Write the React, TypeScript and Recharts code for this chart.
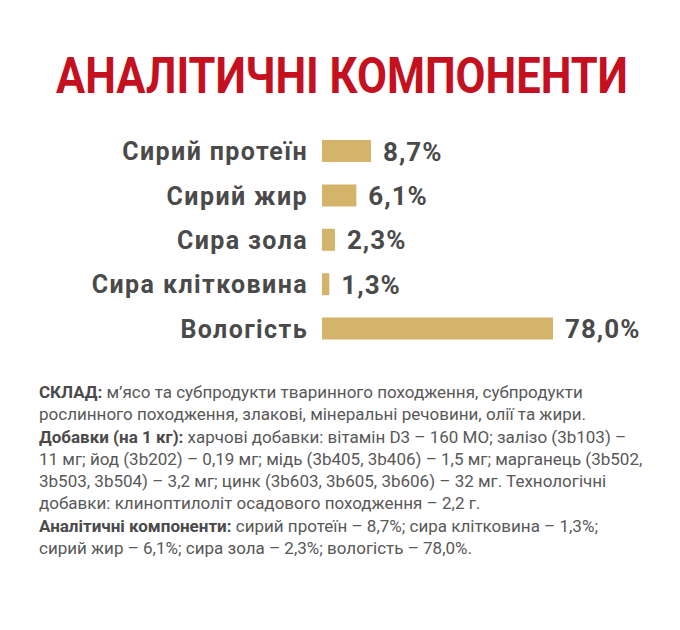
import React from 'react';
import { BarChart, Bar, XAxis, YAxis, LabelList } from 'recharts';

// analytical components, % of product
const CATEGORIES = ['Сирий протеїн', 'Сирий жир', 'Сира зола', 'Сира клітковина', 'Вологість'];
const VALUES = [8.7, 6.1, 2.3, 1.3, 78.0];
// axis is capped so the small values stay readable; moisture bar is clipped at the edge
const AXIS_MAX = 41;

const TITLE = 'АНАЛІТИЧНІ КОМПОНЕНТИ';

// composition text, one entry per printed line: [bold lead, regular rest]
const TEXT_LINES: [string, string][] = [
  ['СКЛАД:', ' м’ясо та субпродукти тваринного походження, субпродукти'],
  ['', 'рослинного походження, злакові, мінеральні речовини, олії та жири.'],
  ['Добавки (на 1 кг):', ' харчові добавки: вітамін D3 – 160 МО; залізо (3b103) –'],
  ['', '11 мг; йод (3b202) – 0,19 мг; мідь (3b405, 3b406) – 1,5 мг; марганець (3b502,'],
  ['', '3b503, 3b504) – 3,2 мг; цинк (3b603, 3b605, 3b606) – 32 мг. Технологічні'],
  ['', 'добавки: клиноптилоліт осадового походження – 2,2 г.'],
  ['Аналітичні компоненти:', ' сирий протеїн – 8,7%; сира клітковина – 1,3%;'],
  ['', 'сирий жир – 6,1%; сира зола – 2,3%; вологість – 78,0%.'],
];

const RED = '#c4101f';
const GOLD = '#d4b46b';
const DARK = '#4a4a4a';
const FONT = 'Roboto, "Open Sans", sans-serif';

const CHART_W = 680;
const CHART_H = 380;
const MARGIN = { top: 129, right: 127, bottom: 29, left: 0 };
const Y_WIDTH = 322;
const PLOT_RIGHT = CHART_W - MARGIN.right;

const fmt = (v: number) => `${v.toFixed(1).replace('.', ',')}%`;

function CategoryTick(props: any) {
  const { x, y, payload } = props;
  return (
    <text
      x={x}
      y={y}
      dy={9}
      textAnchor="end"
      fill={DARK}
      fontSize={25}
      fontWeight={700}
      fontFamily={FONT}
      letterSpacing={1.4}
    >
      {payload.value}
    </text>
  );
}

function ValueLabel(props: any) {
  const { x, y, width, height, value } = props;
  const end = Math.min(Number(x) + Number(width), PLOT_RIGHT);
  return (
    <text
      x={end + 12}
      y={Number(y) + Number(height) / 2}
      dy={9.5}
      fill={DARK}
      fontSize={26}
      fontWeight={700}
      fontFamily={FONT}
      letterSpacing={1}
    >
      {fmt(Number(value))}
    </text>
  );
}

export default function App() {
  const data = CATEGORIES.map((name, i) => ({ name, value: VALUES[i] }));

  return (
    <div
      style={{
        position: 'absolute',
        left: 0,
        top: 0,
        width: 680,
        height: 630,
        background: '#ffffff',
        overflow: 'hidden',
        fontFamily: FONT,
      }}
    >
      <svg width={680} height={120} style={{ position: 'absolute', left: 0, top: 0 }}>
        <g transform="translate(56,93) scale(1,1.14)">
          <text
            x={0}
            y={0}
            textLength={572}
            lengthAdjust="spacingAndGlyphs"
            fill={RED}
            fontSize={43}
            fontWeight={700}
            fontFamily={FONT}
          >
            {TITLE}
          </text>
        </g>
      </svg>

      <div style={{ position: 'absolute', left: 0, top: 0 }}>
        <BarChart width={CHART_W} height={CHART_H} data={data} layout="vertical" margin={MARGIN}>
          <XAxis type="number" domain={[0, AXIS_MAX]} allowDataOverflow hide />
          <YAxis
            type="category"
            dataKey="name"
            width={Y_WIDTH}
            axisLine={false}
            tickLine={false}
            tickSize={0}
            tickMargin={14}
            tick={<CategoryTick />}
            interval={0}
          />
          <Bar dataKey="value" fill={GOLD} barSize={22} isAnimationActive={false}>
            <LabelList dataKey="value" content={<ValueLabel />} />
          </Bar>
        </BarChart>
      </div>

      <div
        style={{
          position: 'absolute',
          left: 39,
          top: 381,
          fontSize: 17,
          lineHeight: '22.3px',
          color: '#585858',
          whiteSpace: 'nowrap',
        }}
      >
        {TEXT_LINES.map(([lead, rest], i) => (
          <div key={i}>
            {lead && <span style={{ fontWeight: 700, color: DARK }}>{lead}</span>}
            {rest}
          </div>
        ))}
      </div>
    </div>
  );
}
